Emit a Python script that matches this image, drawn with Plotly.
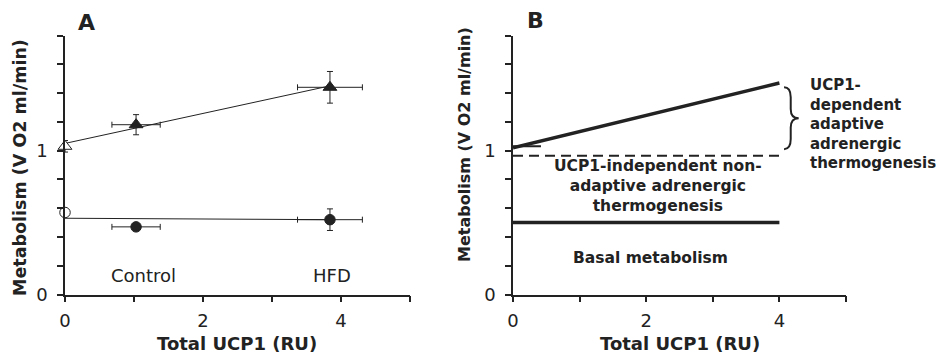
import plotly.graph_objects as go

# ---------------- data ----------------
ucp1 = [0, 1.03, 3.84]
ucp1_err = [0, 0.35, 0.47]
tri_y = [1.03, 1.18, 1.44]
tri_yerr = [0.04, 0.07, 0.11]
circ_y = [0.57, 0.47, 0.52]
circ_yerr = [0.0, 0.02, 0.075]
tri_fit_x = [0, 3.84]
tri_fit_y = [1.05, 1.45]
circ_fit_x = [0, 3.84]
circ_fit_y = [0.53, 0.52]
group_labels = ["Control", "HFD"]
group_label_x = [1.14, 3.87]
group_label_y = [0.13, 0.13]

model_x = [0, 4]
adaptive_y = [1.02, 1.47]
nonadaptive_y = [0.965, 0.965]
basal_y = [0.5, 0.5]
short_x = [0, 0.42]
short_y = [1.03, 1.03]

y_ticks = [0, 0.2, 0.4, 0.6, 0.8, 1.0, 1.2, 1.4, 1.6, 1.8]
y_ticktext = ["0", "", "", "", "", "1", "", "", "", ""]
x_ticks = [0, 1, 2, 3, 4, 5]
x_ticktext = ["0", "", "2", "", "4", ""]

FONT = "DejaVu Sans"
INK = "#222222"
W, H = 940, 356

fig = go.Figure()

# ---------------- panel A ----------------
fig.add_trace(go.Scatter(x=tri_fit_x, y=tri_fit_y, mode="lines",
                         line=dict(color=INK, width=1), xaxis="x", yaxis="y",
                         showlegend=False, hoverinfo="skip"))
fig.add_trace(go.Scatter(x=circ_fit_x, y=circ_fit_y, mode="lines",
                         line=dict(color=INK, width=1), xaxis="x", yaxis="y",
                         showlegend=False, hoverinfo="skip"))

err_style = dict(color=INK, thickness=1, width=3)
fig.add_trace(go.Scatter(
    x=ucp1, y=tri_y, mode="markers", xaxis="x", yaxis="y", cliponaxis=False,
    error_x=dict(type="data", array=ucp1_err, **err_style),
    error_y=dict(type="data", array=tri_yerr, **err_style),
    marker=dict(symbol="triangle-up", size=12,
                color=["white", INK, INK], line=dict(color=INK, width=1)),
    showlegend=False))
fig.add_trace(go.Scatter(
    x=ucp1, y=circ_y, mode="markers", xaxis="x", yaxis="y", cliponaxis=False,
    error_x=dict(type="data", array=ucp1_err, **err_style),
    error_y=dict(type="data", array=circ_yerr, **err_style),
    marker=dict(symbol="circle", size=10.5,
                color=["white", INK, INK], line=dict(color=INK, width=1)),
    showlegend=False))

# ---------------- panel B ----------------
fig.add_trace(go.Scatter(x=model_x, y=adaptive_y, mode="lines", xaxis="x2", yaxis="y2",
                         line=dict(color=INK, width=3.5), showlegend=False, cliponaxis=False))
fig.add_trace(go.Scatter(x=short_x, y=short_y, mode="lines", xaxis="x2", yaxis="y2",
                         line=dict(color=INK, width=2), showlegend=False, cliponaxis=False))
fig.add_trace(go.Scatter(x=model_x, y=nonadaptive_y, mode="lines", xaxis="x2", yaxis="y2",
                         line=dict(color=INK, width=2, dash="10px,6px"), showlegend=False,
                         cliponaxis=False))
fig.add_trace(go.Scatter(x=model_x, y=basal_y, mode="lines", xaxis="x2", yaxis="y2",
                         line=dict(color=INK, width=3.5), showlegend=False, cliponaxis=False))

# curly brace
fig.add_shape(type="path", xref="x2", yref="y2",
              path=("M 4.07,1.44 Q 4.17,1.44 4.17,1.37 L 4.17,1.29 "
                    "Q 4.17,1.225 4.29,1.225 Q 4.17,1.225 4.17,1.16 "
                    "L 4.17,1.08 Q 4.17,1.01 4.07,1.01"),
              line=dict(color=INK, width=2))

# ---------------- axes ----------------
yd = [(H - 294.5) / H, (H - 35.5) / H]
common_x = dict(range=[0, 5], tickmode="array", tickvals=x_ticks, ticktext=x_ticktext,
                ticks="outside", ticklen=6, tickwidth=1.5, tickcolor=INK,
                showline=True, linecolor=INK, linewidth=1.5, showgrid=False,
                zeroline=False, tickfont=dict(family=FONT, size=18, color=INK),
                ticklabelstandoff=3, automargin=False, fixedrange=True)
common_y = dict(range=[0, 1.8], tickmode="array", tickvals=y_ticks, ticktext=y_ticktext,
                ticks="outside", ticklen=6, tickwidth=1.5, tickcolor=INK,
                showline=True, linecolor=INK, linewidth=1.5, showgrid=False,
                zeroline=False, tickfont=dict(family=FONT, size=18, color=INK),
                ticklabelstandoff=6, automargin=False,
                domain=yd, fixedrange=True)

fig.update_layout(
    width=W, height=H,
    margin=dict(l=0, r=0, t=0, b=0, pad=0, autoexpand=False),
    paper_bgcolor="white", plot_bgcolor="white",
    xaxis=dict(domain=[65 / W, 410 / W], anchor="y", **common_x),
    yaxis=dict(anchor="x", **common_y),
    xaxis2=dict(domain=[513 / W, 846 / W], anchor="y2", **common_x),
    yaxis2=dict(anchor="x2", **common_y),
)

def ann(text, x, y, size, bold=True, xref="paper", yref="paper", angle=0,
        xanchor="center", yanchor="middle", align="center"):
    fig.add_annotation(text=text, x=x, y=y, xref=xref, yref=yref, showarrow=False,
                       textangle=angle, xanchor=xanchor, yanchor=yanchor, align=align,
                       borderpad=0,
                       font=dict(family=FONT, size=size, color=INK,
                                 weight="bold" if bold else "normal"))

# panel letters
ann("A", 86 / W, 1 - 22 / H, 22)
ann("B", 535 / W, 1 - 20 / H, 22)
# axis titles
ann("Metabolism (V O2 ml/min)", 20 / W, 1 - 168 / H, 17.5, angle=-90)
ann("Metabolism (V O2 ml/min)", 465 / W, 1 - 145 / H, 16, angle=-90)
ann("Total UCP1 (RU)", 237 / W, 1 - 343 / H, 18)
ann("Total UCP1 (RU)", 680 / W, 1 - 343 / H, 18)
# group labels in A
for t, gx, gy in zip(group_labels, group_label_x, group_label_y):
    ann(t, gx, gy, 18, bold=False, xref="x", yref="y")
# panel B texts
ann("UCP1-independent non-<br>adaptive adrenergic<br>thermogenesis",
    658 / W, 1 - 186 / H, 15.5)
ann("Basal metabolism", 650 / W, 1 - 258 / H, 15.5)
ann("UCP1-<br>dependent<br>adaptive<br>adrenergic<br>thermogenesis",
    809 / W, 1 - 124 / H, 15, xanchor="left", align="left")

fig.write_html("out.html", config={"displayModeBar": False},
               post_script="document.body.style.margin='0';document.body.style.overflow='hidden';")
